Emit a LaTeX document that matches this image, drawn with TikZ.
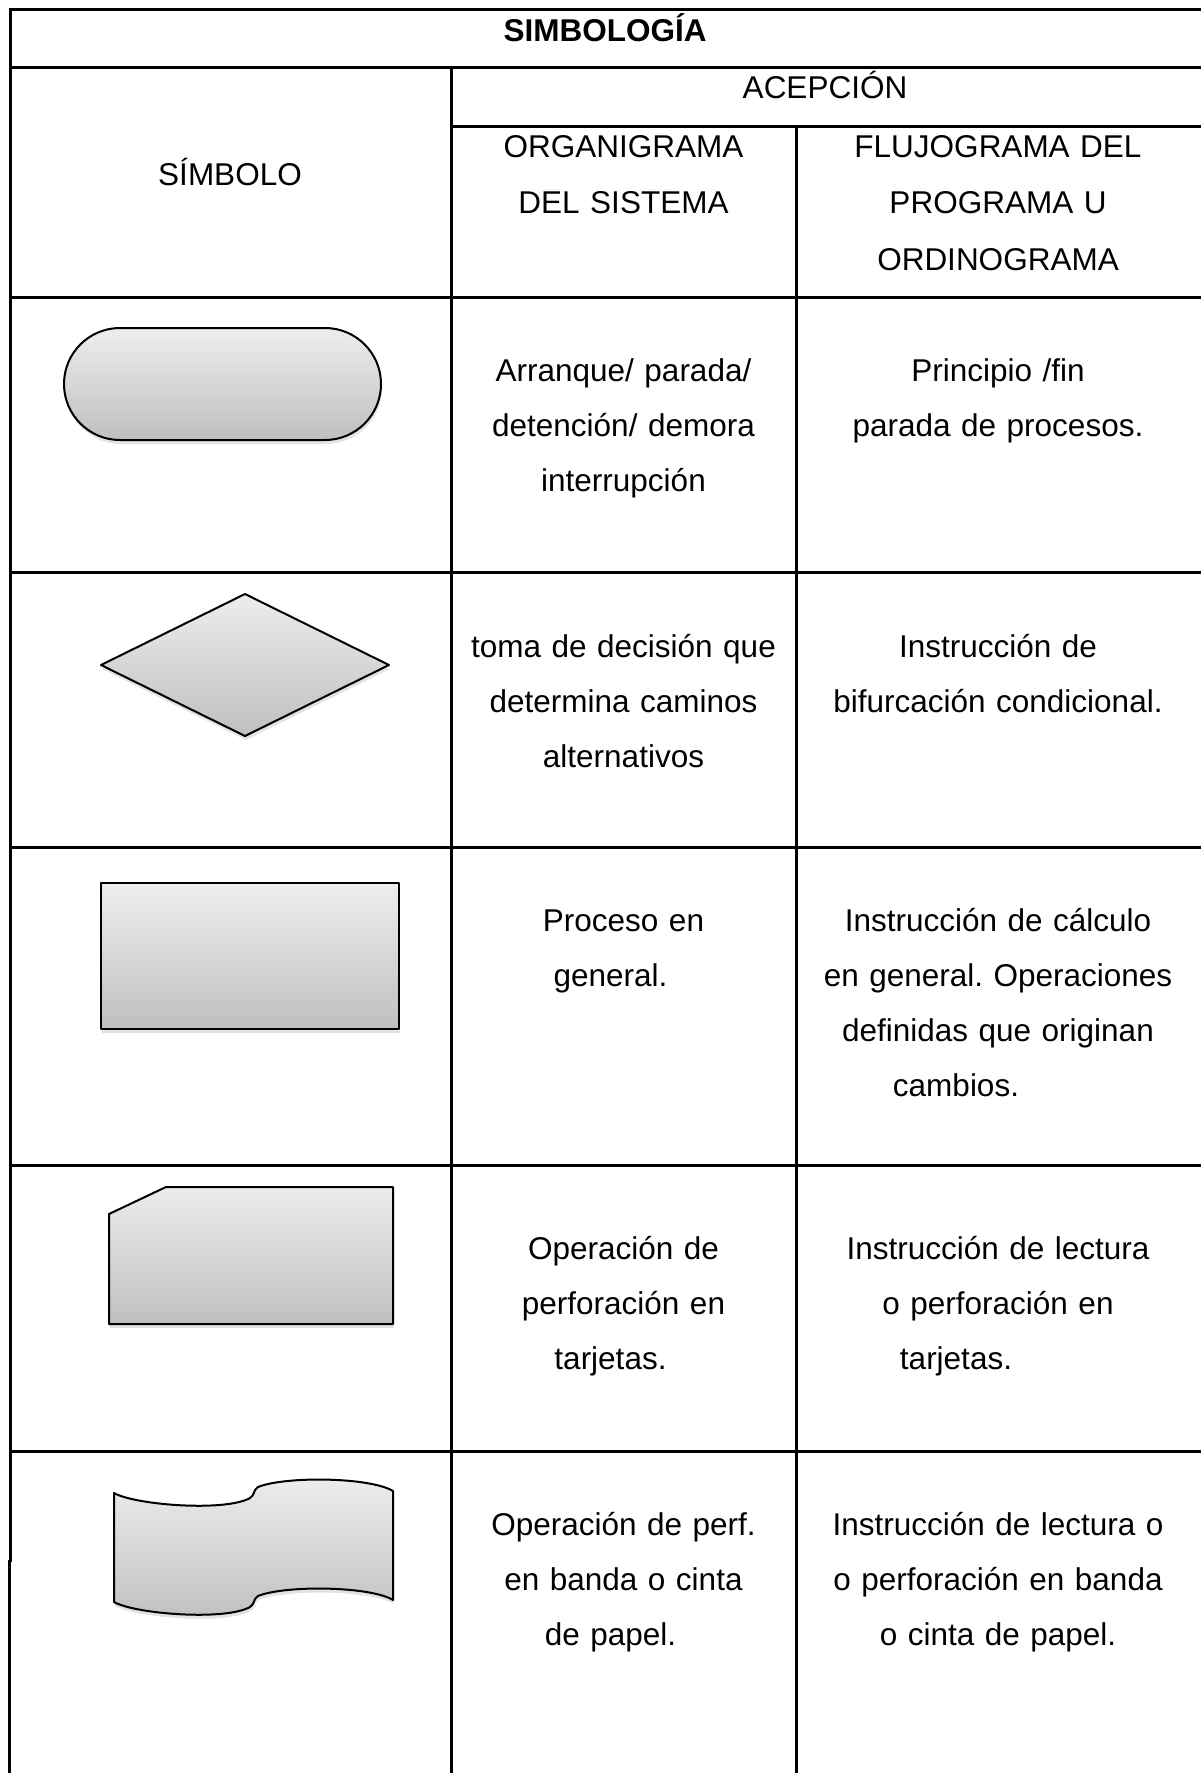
\documentclass[tikz,border=0pt]{standalone}
\usepackage{fontspec}
\setmainfont{Liberation Sans}
\usetikzlibrary{shadows}
\usetikzlibrary{positioning}

\frenchspacing
\newcommand{\tabfont}{\fontsize{15.75}{27.5}\selectfont}
\newcommand{\cabfont}{\fontsize{15.75}{28.25}\selectfont}
\newcommand{\corre}[1]{\rule{#1}{0pt}}

\begin{document}
\begin{tikzpicture}[x=0.5pt,y=-0.5pt,
    tabla/.style={line width=1.5pt, line cap=rect},
    forma/.style={draw=black, line width=1pt, line join=round,
        top color=gray!14, bottom color=gray!50,
        drop shadow={shadow xshift=0.5pt, shadow yshift=-2pt, opacity=0.22}},
    texto/.style={anchor=base, align=center, inner sep=0pt, font=\tabfont},
    colb/.style={texto, text width=170pt},
    colc/.style={texto, text width=200pt}]
    \useasboundingbox (0,0) rectangle (1200,1773);
    % lineas de la tabla
    \draw[tabla] (10,9) -- (1200,9);
    \draw[tabla] (10,67) -- (1200,67);
    \draw[tabla] (451,126) -- (1200,126);
    \foreach \y in {297,572,847,1165,1451}
        \draw[tabla] (10,\y) -- (1200,\y);
    \draw[tabla] (10.5,9) -- (10.5,1560);
    \draw[line width=1.5pt] (9,1560) -- (9,1773);
    \draw[tabla] (451,67) -- (451,1773);
    \draw[tabla] (796,126) -- (796,1773);

    % cabecera
    \node[texto, font=\cabfont\bfseries] (titulo) at (605,41) {SIMBOLOGÍA};
    \node[texto] (simbolo) at (230,185) {SÍMBOLO};
    \node[texto] (acepcion) at (825,98) {ACEPCIÓN};
    \node[colb, font=\cabfont] (organigrama) at (623.5,157) {ORGANIGRAMA\\DEL SISTEMA};
    \node[colc, font=\cabfont] (flujograma) at (998,157) {FLUJOGRAMA DEL\\PROGRAMA U\\ORDINOGRAMA};

    % simbolos
    \draw[forma, rounded corners=28pt] (64,328) rectangle (381,440);
    \draw[forma] (101,665) -- (245,594) -- (389,665) -- (245,736) -- cycle;
    \draw[forma] (101,883) rectangle (399,1029);
    \draw[forma] (109,1214) -- (166,1187) -- (393,1187) -- (393,1324) -- (109,1324) -- cycle;
    \draw[forma] (114,1493) .. controls (135,1505) and (225,1512) .. (250,1498)
        .. controls (255,1495) and (253,1490) .. (258,1487)
        .. controls (285,1476) and (370,1477) .. (393,1491)
        -- (393,1600)
        .. controls (370,1586) and (285,1585) .. (258,1596)
        .. controls (253,1599) and (255,1604) .. (250,1607)
        .. controls (225,1621) and (135,1614) .. (114,1602) -- cycle;

    % acepciones
    \node[colb] (arranque) at (623.5,381) {Arranque/ parada/\\detención/ demora\\interrupción};
    \node[colc] (principio) at (998,381) {Principio /fin\\parada de procesos.};
    \node[colb] (decision) at (623.5,657) {toma de decisión que\\determina caminos\\alternativos};
    \node[colc] (bifurcacion) at (998,657) {Instrucción de\\bifurcación condicional.};
    \node[colb] (proceso) at (623.5,931) {Proceso en\\general.\corre{13pt}};
    \node[colc] (calculo) at (998,931) {Instrucción de cálculo\\en general. Operaciones\\definidas que originan\\cambios.\corre{42pt}};
    \node[colb] (tarjetas) at (623.5,1259) {Operación de\\perforación en\\tarjetas.\corre{13pt}};
    \node[colc] (lectura) at (998,1259) {Instrucción de lectura\\o perforación en\\tarjetas.\corre{42pt}};
    \node[colb] (banda) at (623.5,1535) {Operación de perf.\\en banda o cinta\\de papel.\corre{13pt}};
    \node[colc] (cinta) at (998,1535) {Instrucción de lectura o\\o perforación en banda\\o cinta de papel.};
\end{tikzpicture}
\end{document}
